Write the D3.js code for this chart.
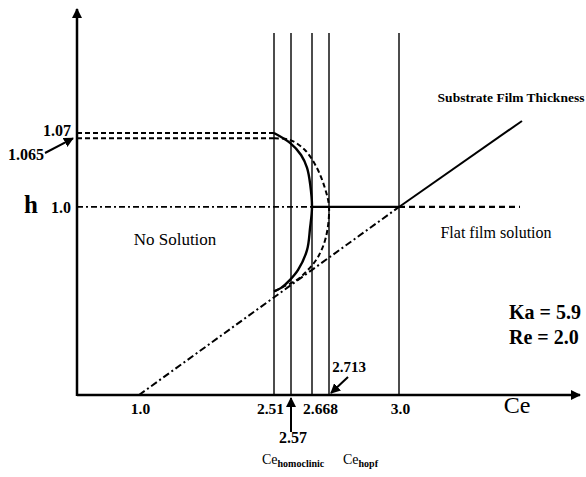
<!DOCTYPE html>
<html>
<head>
<meta charset="utf-8">
<script src="https://cdn.jsdelivr.net/npm/d3@7"></script>
<style>
  body { margin: 0; background: #fff; }
  text { font-family: "Liberation Serif", "Times New Roman", serif; fill: #000; }
</style>
</head>
<body>
<svg id="mainsvg" width="586" height="477"></svg>
<script>
// values
const xTicks = [1.0, 2.51, 2.668, 3.0]
const yTicks = [1.0, 1.07]
const ceLines = [2.51, 2.57, 2.668, 2.713, 3.0]
const hLower = 1.065
// solid branch (Ce, h)
const solidCe = [2.51, 2.5665, 2.617, 2.645, 2.660, 2.668, 2.659, 2.645, 2.603, 2.5665, 2.535, 2.51]
const solidH = [1.07, 1.0606, 1.0492, 1.0369, 1.0208, 1.0, 0.9801, 0.9593, 0.9404, 0.931, 0.9234, 0.92]
// dashed branch (Ce, h)
const dashCe = [2.51, 2.5665, 2.635, 2.681, 2.702, 2.713, 2.705, 2.684, 2.649, 2.598, 2.542, 2.51]
const dashH = [1.065, 1.0634, 1.0539, 1.0369, 1.018, 1.0, 0.9716, 0.9527, 0.9404, 0.931, 0.9243, 0.92]
// substrate film thickness line and flat film
const substrateCe = [1.0, 3.0, 3.687]
const substrateH = [0.822, 1.0, 1.0814]
const flatEnd = 3.676

const svg = d3.select('#mainsvg')
const width = +svg.attr('width')
const height = +svg.attr('height')

// schematic (non uniform) Ce axis
const x = d3.scaleLinear()
    .domain([0.5, 1.0, 2.51, 2.57, 2.668, 2.713, 3.0, 4.0])
    .range([77, 139, 274, 291, 312, 329, 399, 578])
const y = d3.scaleLinear().domain([0.822, 1.07]).range([395, 133])
const hMin = 0.822

const defs = svg.append('defs')
defs.append('marker').attr('id', 'head')
    .attr('viewBox', '0 0 10 10').attr('refX', 9).attr('refY', 5)
    .attr('markerWidth', 4).attr('markerHeight', 4).attr('orient', 'auto')
    .append('path').attr('d', 'M0,0 L10,5 L0,10 Z').attr('fill', '#000')
defs.append('marker').attr('id', 'small')
    .attr('viewBox', '0 0 10 10').attr('refX', 9).attr('refY', 5)
    .attr('markerWidth', 5).attr('markerHeight', 5).attr('orient', 'auto')
    .append('path').attr('d', 'M0,0 L10,5 L0,10 Z').attr('fill', '#000')

const g = svg.append('g').attr('id', 'maingroup')

// vertical lines
g.selectAll('.vline').data(ceLines).join('line')
    .attr('class', 'vline')
    .attr('x1', d => x(d)).attr('x2', d => x(d))
    .attr('y1', 33).attr('y2', y(hMin))
    .attr('stroke', '#111').attr('stroke-width', 1.5)

// horizontal dashed lines at 1.07 and 1.065
g.selectAll('.hdash').data([yTicks[1], hLower]).join('line')
    .attr('class', 'hdash')
    .attr('x1', x(0.5)).attr('x2', x(2.51))
    .attr('y1', d => y(d)).attr('y2', d => y(d))
    .attr('stroke', '#000').attr('stroke-width', 2).attr('stroke-dasharray', '5,3')

// h = 1.0 line: dash-dot, solid, dashed
g.append('line').attr('x1', x(0.5)).attr('x2', x(2.668))
    .attr('y1', y(1)).attr('y2', y(1))
    .attr('stroke', '#000').attr('stroke-width', 1.8).attr('stroke-dasharray', '6,3,2,3')
g.append('line').attr('x1', x(2.668)).attr('x2', x(3.0))
    .attr('y1', y(1)).attr('y2', y(1))
    .attr('stroke', '#000').attr('stroke-width', 2.2)
g.append('line').attr('x1', x(3.0)).attr('x2', x(flatEnd))
    .attr('y1', y(1)).attr('y2', y(1))
    .attr('stroke', '#000').attr('stroke-width', 2.2).attr('stroke-dasharray', '6,4')

// substrate line
g.append('line')
    .attr('x1', x(substrateCe[0])).attr('y1', y(substrateH[0]))
    .attr('x2', x(substrateCe[1])).attr('y2', y(substrateH[1]))
    .attr('stroke', '#000').attr('stroke-width', 2).attr('stroke-dasharray', '7,3,2,3')
g.append('line')
    .attr('x1', x(substrateCe[1])).attr('y1', y(substrateH[1]))
    .attr('x2', x(substrateCe[2])).attr('y2', y(substrateH[2]))
    .attr('stroke', '#000').attr('stroke-width', 2)

// branches
const line = d3.line().x(d => x(d[0])).y(d => y(d[1])).curve(d3.curveCatmullRom)
g.append('path').datum(dashCe.map((c, i) => [c, dashH[i]]))
    .attr('d', line).attr('fill', 'none')
    .attr('stroke', '#000').attr('stroke-width', 2).attr('stroke-dasharray', '5,3')
g.append('path').datum(solidCe.map((c, i) => [c, solidH[i]]))
    .attr('d', line).attr('fill', 'none')
    .attr('stroke', '#000').attr('stroke-width', 2.4)

// axes
const xAxis = d3.axisBottom(x).tickValues(xTicks).tickSize(0).tickPadding(8)
    .tickFormat(d => d === 1 || d === 3 ? d.toFixed(1) : String(d))
const xg = g.append('g').attr('transform', `translate(0, ${y(hMin)})`).call(xAxis)
xg.select('.domain').remove()
xg.selectAll('text').attr('font-size', 15.5).attr('font-weight', 'bold')
    .attr('font-family', '"Liberation Serif", serif').attr('fill', '#000')
    .attr('dx', d => d === 2.51 ? -4 : d === 2.668 ? 8 : 1)

const yAxis = d3.axisLeft(y).tickValues(yTicks).tickSize(0).tickPadding(6)
    .tickFormat(d => d === 1 ? '1.0' : '1.07')
const yg = g.append('g').attr('transform', `translate(${x(0.5)}, 0)`).call(yAxis)
yg.select('.domain').remove()
yg.selectAll('text').attr('font-size', 16).attr('font-weight', 'bold')
    .attr('font-family', '"Liberation Serif", serif').attr('fill', '#000')
    .attr('dy', d => d === 1 ? '0.35em' : '0.15em')

g.append('line').attr('x1', x(0.5)).attr('x2', 580)
    .attr('y1', y(hMin)).attr('y2', y(hMin))
    .attr('stroke', '#000').attr('stroke-width', 2.5).attr('marker-end', 'url(#head)')
g.append('line').attr('x1', x(0.5)).attr('x2', x(0.5))
    .attr('y1', y(hMin) + 1).attr('y2', 9)
    .attr('stroke', '#000').attr('stroke-width', 2.5).attr('marker-end', 'url(#head)')

// annotation arrows
g.append('line').attr('x1', 45).attr('y1', 153).attr('x2', x(0.5) - 4).attr('y2', y(hLower))
    .attr('stroke', '#000').attr('stroke-width', 2).attr('marker-end', 'url(#small)')
g.append('line').attr('x1', 348).attr('y1', 377).attr('x2', x(2.713) + 2).attr('y2', y(hMin) - 2)
    .attr('stroke', '#000').attr('stroke-width', 2).attr('marker-end', 'url(#small)')
g.append('line').attr('x1', x(2.57)).attr('y1', 432).attr('x2', x(2.57)).attr('y2', y(hMin) + 3)
    .attr('stroke', '#000').attr('stroke-width', 2).attr('marker-end', 'url(#small)')

// labels
const txt = (s, px, py, size, weight, anchor) => g.append('text')
    .attr('x', px).attr('y', py).attr('font-size', size)
    .attr('font-weight', weight || 'normal').attr('text-anchor', anchor || 'start').text(s)

txt('h', 31, 213, 25, 'bold', 'middle')
txt('1.065', 44, 160, 16, 'bold', 'end')
txt('2.713', 349, 372, 15, 'bold', 'middle')
txt('2.57', 293, 443, 16, 'bold', 'middle')
txt('Ce', 517, 413, 24, 'normal', 'middle')
txt('No Solution', 175, 245, 17, 'normal', 'middle')
txt('Flat film solution', 496, 238, 16, 'normal', 'middle')
txt('Substrate Film Thickness', 511, 102, 13.5, 'bold', 'middle')
txt('Ka = 5.9', 509, 319, 20, 'bold', 'start')
txt('Re = 2.0', 509, 344, 20, 'bold', 'start')

const sub = (base, s, px, py) => {
  const t = g.append('text').attr('x', px).attr('y', py).attr('font-size', 14)
  t.append('tspan').text(base)
  t.append('tspan').attr('font-size', 10).attr('font-weight', 'bold').attr('dy', 3).text(s)
}
sub('Ce', 'homoclinic', 262, 464)
sub('Ce', 'hopf', 343, 464)
</script>
</body>
</html>
